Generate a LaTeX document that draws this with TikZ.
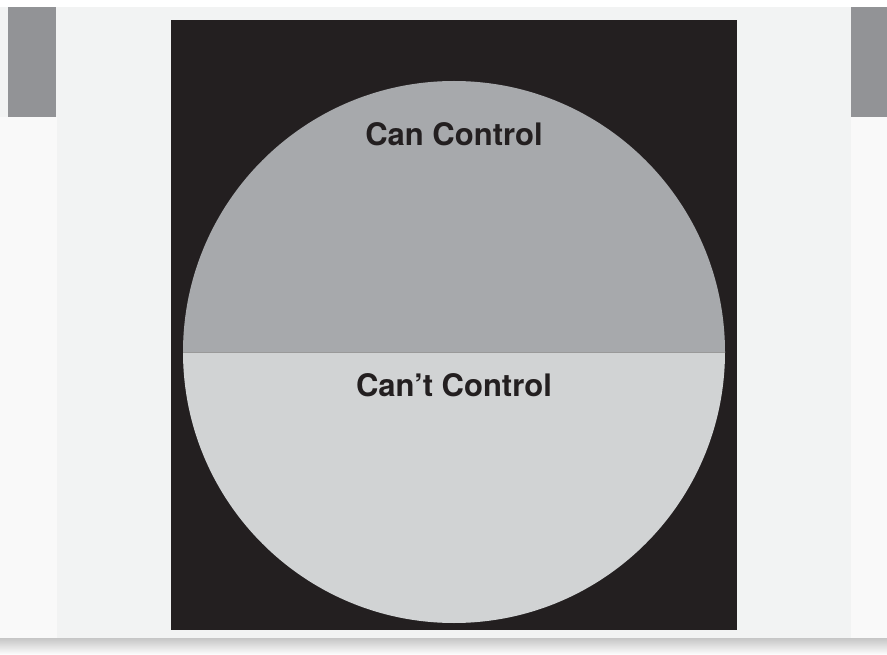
\documentclass[tikz,border=0pt]{standalone}
\usepackage{fontspec}
\setsansfont{TeX Gyre Heros}
\definecolor{inkblack}{HTML}{231F20}
\definecolor{paper}{HTML}{F2F3F3}
\definecolor{bargray}{HTML}{929396}
\definecolor{topgray}{HTML}{A7A9AC}
\definecolor{lowgray}{HTML}{D1D3D4}
\begin{document}
\begin{tikzpicture}[x=1pt, y=-1pt,
    label/.style={font=\sffamily\bfseries\fontsize{31}{36}\selectfont, text=inkblack}]
    % Background
    \fill[white] (0, 0) rectangle (887, 655);
    \fill[paper] (0, 7) rectangle (887, 638);
    \fill[paper!50!white] (0, 117) rectangle (57, 638);
    \fill[paper!50!white] (851, 117) rectangle (887, 638);
    \shade[top color=gray!45, bottom color=white] (0, 638) rectangle (887, 655);
    
    % Side bars
    \fill[bargray] (8, 7) rectangle (56, 117);
    \fill[bargray] (851, 7) rectangle (887, 117);
    
    % Black panel
    \fill[inkblack] (171, 20) rectangle (737, 630);
    
    % Circle: upper and lower halves (y axis points down)
    \fill[topgray] (183, 352) arc[start angle=180, end angle=360, radius=271] -- cycle;
    \fill[lowgray] (183, 352) arc[start angle=180, end angle=0, radius=271] -- cycle;
    \draw[gray!80, line width=0.8] (183, 352) -- (725, 352);
    
    % Labels
    \node[label] (can) at (454, 134) {Can Control};
    \node[label] (cannot) at (454, 385) {Can’t Control};
\end{tikzpicture}
\end{document}
